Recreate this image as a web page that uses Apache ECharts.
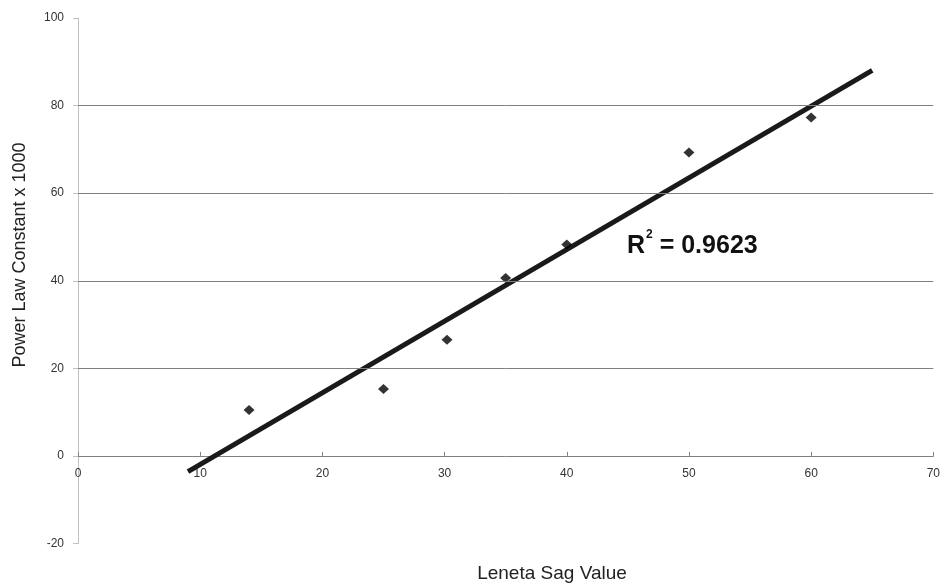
<!DOCTYPE html>
<html>
<head>
<meta charset="utf-8">
<script src="https://cdn.jsdelivr.net/npm/echarts@6/dist/echarts.min.js"></script>
<style>
  html, body { margin: 0; padding: 0; background: #ffffff; }
  #chart { width: 943px; height: 587px; }
</style>
</head>
<body>
<div id="chart"></div>
<script>
// Measured samples: Leneta sag value vs. power law constant (x1000)
const sagValues = [14, 25, 30.2, 35, 40, 50, 60];
const powerLawConstants = [10.5, 15.3, 26.5, 40.6, 48.3, 69.3, 77.3];

// Axis ranges and tick steps
const xTicks = { min: 0, max: 70, step: 10 };
const yTicks = { min: -20, max: 100, step: 20 };
const gridLevels = [20, 40, 60, 80];

// Trendline extent (forecast 5 units backward and forward of the data)
const trendRange = [9, 65];
const rSquaredText = '0.9623';

// Least-squares linear fit of the samples
function linearFit(xs, ys) {
  const n = xs.length;
  const mx = xs.reduce((a, b) => a + b, 0) / n;
  const my = ys.reduce((a, b) => a + b, 0) / n;
  let sxy = 0, sxx = 0;
  for (let i = 0; i < n; i++) {
    sxy += (xs[i] - mx) * (ys[i] - my);
    sxx += (xs[i] - mx) * (xs[i] - mx);
  }
  const slope = sxy / sxx;
  return { slope, intercept: my - slope * mx };
}
const fit = linearFit(sagValues, powerLawConstants);
const trendPoints = trendRange.map(x => [x, fit.slope * x + fit.intercept]);

const W = 943, H = 587;
const grid = { left: 78, right: 6, top: 18, bottom: 43.5 };
// Shift the category axis up so it crosses the value axis at zero
const plotHeight = H - grid.top - grid.bottom;
const zeroOffset = -((0 - yTicks.min) / (yTicks.max - yTicks.min)) * plotHeight;

const chart = echarts.init(document.getElementById('chart'), null, { renderer: 'canvas' });

const labelFont = 'Liberation Sans, Arial, sans-serif';

chart.setOption({
  animation: false,
  backgroundColor: '#ffffff',
  grid: Object.assign({ containLabel: false }, grid),
  xAxis: {
    type: 'value',
    position: 'bottom',
    offset: zeroOffset,
    min: xTicks.min, max: xTicks.max, interval: xTicks.step,
    axisLine: { show: true, onZero: false, lineStyle: { color: '#808080', width: 1 } },
    axisTick: { show: true, inside: true, length: 4, lineStyle: { color: '#808080' } },
    axisLabel: { color: '#333333', fontSize: 12, fontFamily: labelFont, margin: 12 },
    splitLine: { show: false }
  },
  yAxis: {
    type: 'value',
    min: yTicks.min, max: yTicks.max, interval: yTicks.step,
    axisLine: { show: true, onZero: false, lineStyle: { color: '#c0c0c0', width: 1 } },
    axisTick: { show: true, length: 5, lineStyle: { color: '#c0c0c0' } },
    axisLabel: { color: '#333333', fontSize: 12, fontFamily: labelFont, margin: 14 },
    splitLine: { show: false }
  },
  series: [
    {
      name: 'Gridlines',
      type: 'line',
      data: [],
      silent: true,
      markLine: {
        silent: true,
        symbol: 'none',
        label: { show: false },
        lineStyle: { color: '#808080', type: 'solid', width: 1 },
        data: gridLevels.map(v => ({ yAxis: v }))
      }
    },
    {
      name: 'Trendline',
      type: 'line',
      data: trendPoints,
      showSymbol: false,
      symbol: 'none',
      lineStyle: { color: '#1a1a1a', width: 5, cap: 'butt' },
      z: 3
    },
    {
      name: 'Samples',
      type: 'scatter',
      data: sagValues.map((x, i) => [x, powerLawConstants[i]]),
      symbol: 'diamond',
      symbolSize: [11, 10],
      itemStyle: { color: '#000000' },
      z: 4
    }
  ],
  graphic: [
    {
      type: 'text',
      left: 627, top: 229,
      style: {
        text: '{r|R}{s|2}{r| = ' + rSquaredText + '}',
        rich: {
          r: { fontSize: 25, fontWeight: 'bold', fontFamily: labelFont, fill: '#111111', verticalAlign: 'bottom', lineHeight: 30 },
          s: { fontSize: 12, fontWeight: 'bold', fontFamily: labelFont, fill: '#111111', verticalAlign: 'top', padding: [0, 0, 14, 1], lineHeight: 30 }
        }
      }
    },
    {
      type: 'text',
      x: 20, y: 255,
      rotation: Math.PI / 2,
      style: {
        text: 'Power Law Constant x 1000',
        fontSize: 18, fontFamily: labelFont, fill: '#222222',
        align: 'center', verticalAlign: 'middle'
      }
    },
    {
      type: 'text',
      x: 552, y: 574,
      style: {
        text: 'Leneta Sag Value',
        fontSize: 19, fontFamily: labelFont, fill: '#222222',
        align: 'center', verticalAlign: 'middle'
      }
    }
  ]
});
</script>
</body>
</html>
